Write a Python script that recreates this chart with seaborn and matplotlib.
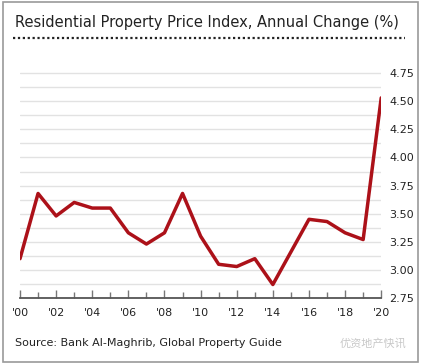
import matplotlib
matplotlib.use('Agg')
import matplotlib.pyplot as plt
from matplotlib.ticker import MultipleLocator, FixedLocator
import seaborn as sns
import pandas as pd

# Annual change of the residential property price index (%)
years = list(range(2000, 2021))
change = [3.10, 3.68, 3.48, 3.60, 3.55, 3.55, 3.33, 3.23, 3.33, 3.68, 3.30,
          3.05, 3.03, 3.10, 2.87, 3.16, 3.45, 3.43, 3.33, 3.27, 4.53]
xtick_years = list(range(2000, 2021, 2))
xtick_labels = ["'" + str(y)[2:] for y in xtick_years]
ytick_values = [2.75, 3.00, 3.25, 3.50, 3.75, 4.00, 4.25, 4.50, 4.75]

LINE_COLOR = '#ac1119'
GRID_COLOR = '#e2e2e2'
TEXT_COLOR = '#222222'

sns.set_style('white')
plt.rcParams['font.family'] = ['DejaVu Sans']

df = pd.DataFrame({'year': years, 'change': change})

fig = plt.figure(figsize=(4.21, 3.63), dpi=100)
ax = fig.add_axes([0.0475, 0.179, 0.858, 0.635])

sns.lineplot(data=df, x='year', y='change', color=LINE_COLOR, linewidth=2.5, ax=ax)

ax.set_xlim(2000, 2020)
ax.set_ylim(2.75, 4.80)
ax.set_xlabel('')
ax.set_ylabel('')

# y axis on the right, no tick marks
ax.yaxis.tick_right()
ax.set_yticks(ytick_values)
ax.set_yticklabels([f'{v:.2f}' for v in ytick_values], fontsize=8, color=TEXT_COLOR)
ax.yaxis.set_minor_locator(MultipleLocator(0.125))
ax.tick_params(axis='y', which='both', length=0, pad=6)

# gridlines at every 0.125
ax.grid(axis='y', which='major', color=GRID_COLOR, linewidth=1.0)
ax.grid(axis='y', which='minor', color=GRID_COLOR, linewidth=1.0)
ax.grid(axis='x', visible=False)
ax.set_axisbelow(True)

# x ticks pointing up from the base line
ax.set_xticks(xtick_years)
ax.set_xticklabels(xtick_labels, fontsize=8, color=TEXT_COLOR)
ax.xaxis.set_minor_locator(FixedLocator(years))
ax.tick_params(axis='x', which='major', direction='in', length=6, width=1,
               color='#777777', pad=7, bottom=True)
ax.tick_params(axis='x', which='minor', direction='in', length=4, width=1,
               color='#777777', bottom=True)

for side in ['top', 'right', 'left']:
    ax.spines[side].set_visible(False)
ax.spines['bottom'].set_color('#555555')
ax.spines['bottom'].set_linewidth(1.3)

# frame, title and dotted rule
fig.patches.append(plt.Rectangle((0.006, 0.004), 0.988, 0.99, fill=False,
                                 edgecolor='#9a9a9a', linewidth=1.2,
                                 transform=fig.transFigure, figure=fig))
fig.text(0.036, 0.938, 'Residential Property Price Index, Annual Change (%)',
         fontsize=10.5, color=TEXT_COLOR, ha='left', va='center')
fig.add_artist(plt.Line2D([0.03, 0.962], [0.895, 0.895], transform=fig.transFigure,
                          color='#222222', linewidth=1.6, linestyle=(0, (1, 1.2))))

fig.text(0.036, 0.055, 'Source: Bank Al-Maghrib, Global Property Guide',
         fontsize=8, color=TEXT_COLOR, ha='left', va='center')
fig.text(0.965, 0.055, '优资地产快讯', fontsize=8, color='#c8c8c8', ha='right',
         va='center', family=['Noto Sans CJK SC', 'DejaVu Sans'])

plt.savefig('out.png', dpi=100)
plt.close()
